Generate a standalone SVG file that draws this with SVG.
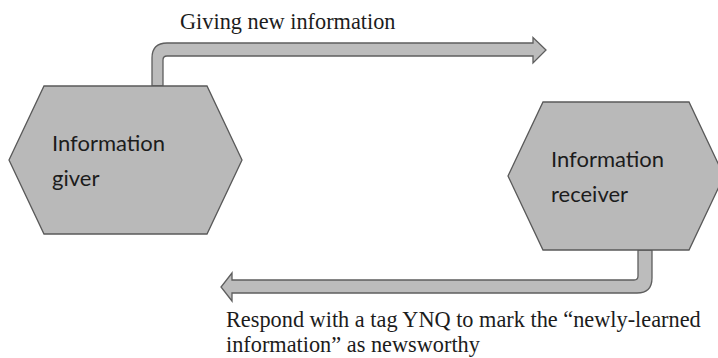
<svg xmlns="http://www.w3.org/2000/svg" width="718" height="358" viewBox="0 0 718 358">
<style>
.shape{fill:#b9b9b9;stroke:#595959;stroke-width:1.3;stroke-linejoin:miter}
.arrow{fill:#bcbcbc;stroke:#5e5e5e;stroke-width:1.3;stroke-linejoin:miter}
.node{font-family:Lato,"Open Sans",sans-serif;font-size:22px;fill:#1c1c1c}
.lab{font-family:"Liberation Serif","Times New Roman",serif;font-size:22.3px;fill:#1c1c1c}
</style>
<rect width="718" height="358" fill="#ffffff"/>
<g id="connectors">
<path class="arrow" d="M152,86 L152,58 Q152,43 167,43 L533,43 L533,37.5 L546,50 L533,63 L533,56 L167,56 Q163,56 163,60 L163,86 Z"/>
<path class="arrow" d="M638,250 L638,276 Q638,280 634,280 L232,280 L232,273 L221,287 L232,301 L232,293 L637,293 Q652,293 652,278 L652,250 Z"/>
</g>
<g id="giver">
<polygon class="shape" points="9,160 44,86 207,86 242,160 207,234 44,234"/>
<text class="node" x="52" y="151">Information</text>
<text class="node" x="52" y="186">giver</text>
</g>
<g id="receiver">
<polygon class="shape" points="508,176 543,102 689,102 724,176 689,250 543,250"/>
<text class="node" x="551" y="167">Information</text>
<text class="node" x="551" y="202">receiver</text>
</g>
<g id="labels">
<text class="lab" x="180" y="29">Giving new information</text>
<text class="lab" x="226" y="327">Respond with a tag YNQ to mark the “newly-learned</text>
<text class="lab" x="226" y="352">information” as newsworthy</text>
</g>
</svg>
